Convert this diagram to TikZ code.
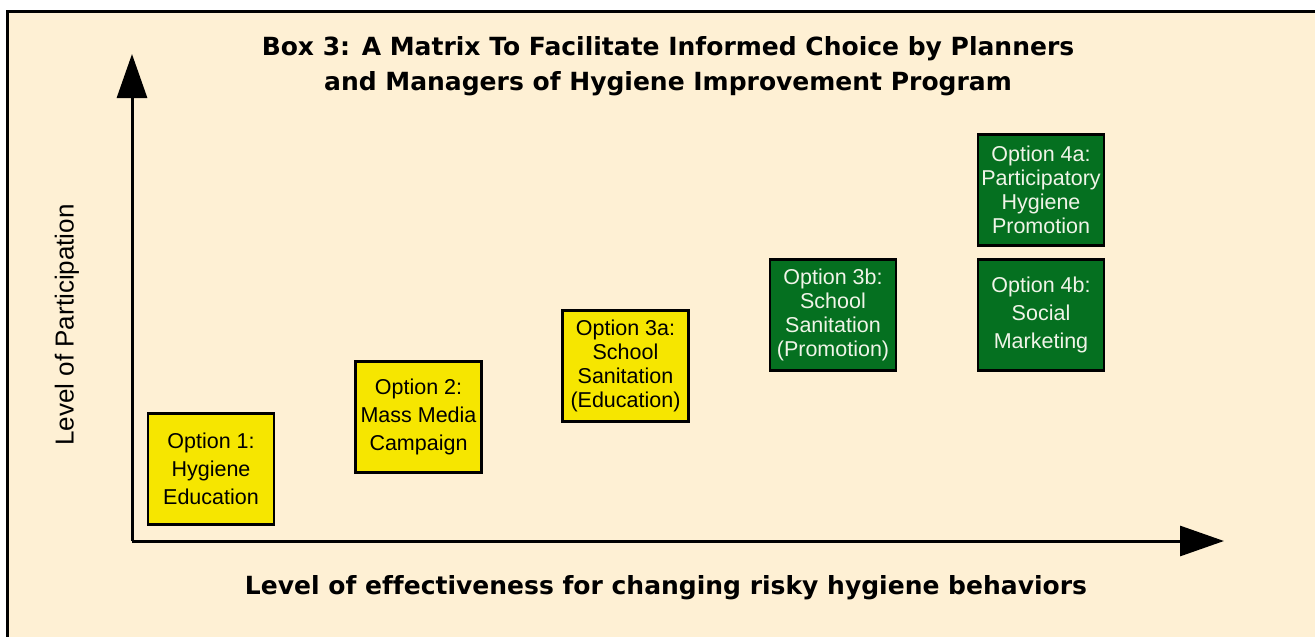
\documentclass[tikz,border=0pt]{standalone}
\usepackage{fontspec}
\setmainfont{Liberation Sans}
\newfontfamily\headfont{DejaVu Sans}[Ligatures=NoCommon]
\usetikzlibrary{arrows.meta}

\definecolor{paper}{RGB}{254,240,212}
\definecolor{optyellow}{RGB}{246,230,0}
\definecolor{optgreen}{RGB}{5,112,32}
\definecolor{optlight}{RGB}{240,244,232}

\tikzset{
  axisline/.style={line width=3pt, -{Triangle[length=44pt,width=30pt]}},
  optbox/.style={draw=black, line width=2.6pt, minimum width=126pt, minimum height=111pt,
    inner sep=2pt, align=center, font=\fontsize{21.5}{24}\selectfont},
  lowbox/.style={optbox, fill=optyellow, text=black},
  highbox/.style={optbox, fill=optgreen, text=optlight},
  threeline/.style={font=\fontsize{21.5}{28}\selectfont},
  headtext/.style={font=\headfont\bfseries\fontsize{25}{35}\selectfont, align=center},
}

\begin{document}
\begin{tikzpicture}[x=1pt,y=-1pt]
  \useasboundingbox (0,0) rectangle (1315,637);
  \clip (0,0) rectangle (1315,637);

  % framed panel, running off the right and bottom edges
  \draw[line width=3pt, fill=paper] (7,11) rectangle (1340,660);

  % title
  \node[headtext] (title) at (668,66)
    {Box 3: A Matrix To Facilitate Informed Choice by Planners\\
     and Managers of Hygiene Improvement Program};

  % axes
  \coordinate (origin) at (132,541);
  \coordinate (ytip) at (132,54);
  \coordinate (xtip) at (1224,541);
  \draw[axisline] (origin) -- (ytip);
  \draw[axisline] (origin) -- (xtip);

  % axis labels
  \node[font=\fontsize{26}{28}\selectfont, rotate=90] (ylabel) at (67,325) {Level of Participation};
  \node[headtext] (xlabel) at (666,588) {Level of effectiveness for changing risky hygiene behaviors};

  % options
  \node[lowbox, threeline] (opt1) at (211,469) {Option 1:\\Hygiene\\Education};
  \node[lowbox, threeline] (opt2) at (418.5,417) {Option 2:\\Mass Media\\Campaign};
  \node[lowbox] (opt3a) at (625.5,366) {Option 3a:\\School\\Sanitation\\(Education)};
  \node[highbox] (opt3b) at (833,315) {Option 3b:\\School\\Sanitation\\(Promotion)};
  \node[highbox] (opt4a) at (1041,190) {Option 4a:\\Participatory\\Hygiene\\Promotion};
  \node[highbox, threeline] (opt4b) at (1041,315) {Option 4b:\\Social\\Marketing};
\end{tikzpicture}
\end{document}
